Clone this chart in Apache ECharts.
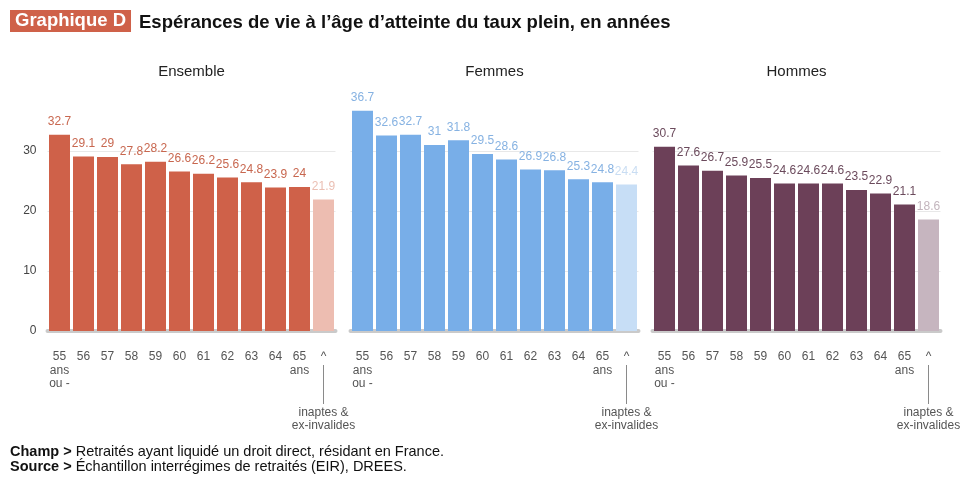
<!DOCTYPE html>
<html><head><meta charset="utf-8">
<script src="https://cdn.jsdelivr.net/npm/echarts@6/dist/echarts.min.js"></script>
<style>html,body{margin:0;padding:0;background:#fff}#c{width:970px;height:481px}</style>
</head><body><div id="c"></div>
<script>
const categories = ['55','56','57','58','59','60','61','62','63','64','65','inaptes'];
const panelTitles = ['Ensemble','Femmes','Hommes'];
const ensemble = [32.7, 29.1, 29, 27.8, 28.2, 26.6, 26.2, 25.6, 24.8, 23.9, 24, 21.9];
const femmes   = [36.7, 32.6, 32.7, 31, 31.8, 29.5, 28.6, 26.9, 26.8, 25.3, 24.8, 24.4];
const hommes   = [30.7, 27.6, 26.7, 25.9, 25.5, 24.6, 24.6, 24.6, 23.5, 22.9, 21.1, 18.6];
const yTicks = [0, 10, 20, 30];

const seriesData = [ensemble, femmes, hommes];
const barColors = ['#CF6149', '#78AEE8', '#6C4058'];
const lightColors = ['#EDBDB1', '#C7DEF6', '#C6B5BF'];
const labelColors = ['#C8674F', '#86B2E2', '#6B4A5C'];
const lightLabelColors = ['#EBBFB3', '#C9DDF3', '#C3B5BD'];
const lefts = [47.5, 350.5, 652.5];
const width = 288;
const FONT = '"Liberation Sans", Arial, sans-serif';

function xLabel(v) {
  if (v === '55') return '55\nans\nou -';
  if (v === '65') return '65\nans';
  if (v === 'inaptes') return '{c|^}\n{l|}\n{c|inaptes &}\n{c|ex-invalides}';
  return v;
}

const grids = [], xAxes = [], yAxes = [], series = [], titles = [];
titles.push({ text: 'Graphique D', left: 10, top: 10, backgroundColor: '#CF6149', padding: [1, 5, 1, 5],
  textStyle: { color: '#fff', fontSize: 18.5, lineHeight: 20, fontWeight: 'bold', fontFamily: FONT } });
titles.push({ text: 'Espérances de vie à l\u2019âge d\u2019atteinte du taux plein, en années', left: 139, top: 13, padding: 0,
  textStyle: { color: '#111', fontSize: 18.5, lineHeight: 20, fontWeight: 'bold', fontFamily: FONT } });
titles.push({ text: '{b|Champ >} Retraités ayant liquidé un droit direct, résidant en France.\n{b|Source >} Échantillon interrégimes de retraités (EIR), DREES.',
  left: 10, top: 444, padding: 0,
  textStyle: { color: '#111', fontSize: 14.5, lineHeight: 15, fontWeight: 'normal', fontFamily: FONT,
    rich: { b: { fontWeight: 'bold', fontSize: 14.5, lineHeight: 15, fontFamily: FONT, color: '#111' } } } });

for (let i = 0; i < 3; i++) {
  grids.push({ left: lefts[i], top: 91, width: width, height: 240 });
  titles.push({ text: panelTitles[i], left: lefts[i] + width / 2, top: 64, padding: 0, textAlign: 'center',
    textStyle: { color: '#222', fontSize: 15, fontWeight: 'normal', fontFamily: FONT } });
  xAxes.push({ type: 'category', gridIndex: i, data: categories,
    axisLine: { show: true, lineStyle: { color: '#cacaca', width: 4 } },
    axisTick: { show: false },
    axisLabel: { interval: 0, margin: 19, color: '#555', fontSize: 12, lineHeight: 13.5, fontFamily: FONT,
      formatter: xLabel,
      rich: { c: { fontSize: 12, lineHeight: 13.5, color: '#555', fontFamily: FONT, align: 'center' },
              l: { width: 1, height: 39, lineHeight: 42, backgroundColor: '#8a8a8a', align: 'center' } } } });
  yAxes.push({ type: 'value', gridIndex: i, min: 0, max: 40, interval: 10,
    axisLine: { show: false }, axisTick: { show: false },
    splitLine: { show: true, showMaxLine: false, lineStyle: { color: '#e8e8e8', width: 1 } },
    axisLabel: { show: i === 0, showMaxLabel: false, color: '#444', fontSize: 12, margin: 11, fontFamily: FONT,
      formatter: v => yTicks.includes(v) ? String(v) : '' } });
  const n = seriesData[i].length;
  series.push({ type: 'bar', xAxisIndex: i, yAxisIndex: i, barWidth: 21,
    data: seriesData[i].map((v, k) => ({ value: v,
      itemStyle: { color: k === n - 1 ? lightColors[i] : barColors[i] },
      label: { color: k === n - 1 ? lightLabelColors[i] : labelColors[i] } })),
    label: { show: true, position: 'top', distance: 7, fontSize: 12, fontFamily: FONT },
    animation: false });
}

const chart = echarts.init(document.getElementById('c'), null, { renderer: 'canvas' });
chart.setOption({ animation: false, title: titles, grid: grids, xAxis: xAxes, yAxis: yAxes, series: series });
</script></body></html>
